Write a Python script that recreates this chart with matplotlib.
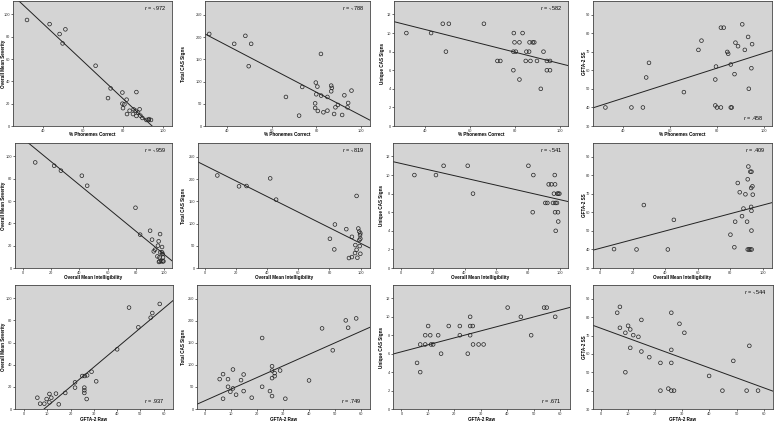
import numpy as np
import matplotlib
matplotlib.use("Agg")
import matplotlib.pyplot as plt

plt.rcParams['font.family'] = ['Liberation Sans', 'DejaVu Sans']
plt.rcParams['mathtext.fontset'] = 'custom'
plt.rcParams['mathtext.it'] = 'Liberation Sans:italic'
plt.rcParams['mathtext.rm'] = 'Liberation Sans'

# ---- data (one x / y list per panel) ----
# row 1: % Phonemes Correct
ppc_sev_x = [32, 43.3, 48.3, 51.2, 49.8, 66.3, 73.8, 72.5, 79.7, 86.7, 81.8, 79.7, 80.7, 80, 83.3,
             85.3, 86.3, 88.3, 82, 85, 86.7, 88.7, 89.7, 91.7, 92.8, 94, 93, 87.5]
ppc_sev_y = [95, 91.3, 82.4, 86.6, 74, 54, 33.7, 25, 30, 30.4, 23.6, 20, 19.4, 16, 13.7,
             14.9, 13.7, 15, 10.7, 10.7, 9, 9.3, 7.2, 5.4, 5.4, 5.4, 6.2, 12]

ppc_tot_x = [31.9, 43.1, 48.1, 50.7, 49.6, 66.3, 73.6, 72.2, 82, 79.7, 80.4, 79.9, 79.4, 79.4, 82.1,
             80.6, 83.1, 84.9, 84.9, 86.6, 86.9, 86.6, 87.9, 88.5, 89.6, 91.5, 92.5, 93.9, 94.2, 95.7]
ppc_tot_y = [207, 184.7, 202.7, 184.7, 134.4, 65.3, 87.8, 23.3, 162, 97.6, 88.6, 71.3, 51, 40.5, 68.3,
             33.8, 30.8, 34.5, 65.3, 90.8, 85.6, 78, 27, 42, 47.3, 24.8, 69, 42, 51.8, 79.6]

ppc_uni_x = [31.8, 42.8, 48, 50.7, 49.4, 66.3, 72.3, 73.6, 79.6, 83.5, 79.9, 82.1, 79.4, 80.5, 79.4,
             82.1, 84.9, 85.2, 86.4, 86.6, 88, 88.7, 87, 89.9, 92.8, 91.6, 94.3, 95.7, 94.3, 95.7]
ppc_uni_y = [10, 10, 11, 11, 8, 11, 7, 7, 10, 10, 9, 9, 8, 8, 6,
             5, 7, 8, 8, 9, 9, 9, 7, 7, 8, 4, 7, 7, 6, 6]

ppc_ss_x = [32.5, 43.6, 48.5, 49.9, 51.1, 66, 72.2, 73.5, 79.4, 80.1, 79.7, 79.4, 81.8, 81.8, 83.0,
            84.5, 84.9, 86, 86, 86.4, 87.6, 88, 89.1, 90.9, 92, 93.4, 93.7, 94.8, 95.1]
ppc_ss_y = [40, 40, 40, 56.2, 64.1, 48.3, 71.1, 76.1, 41.1, 40, 62.1, 55.1, 40, 83.1, 83.1,
            70, 69, 63.2, 40, 40, 58, 75, 73.1, 84.9, 71.1, 78.1, 50.1, 61.2, 74.2]

# row 2: Overall Mean Intelligibility
omi_sev_x = [8.5, 22, 26.8, 41.7, 45.5, 79.9, 83.2, 90.3, 91.7, 97.4, 96.4, 95.9, 93.8, 92.9, 98.8,
             97.6, 98.8, 95.5, 97, 99.3, 99.5, 97, 98.2, 99.3, 99.8, 96.6]
omi_sev_y = [94.6, 91.6, 87.2, 82.7, 73.7, 54, 29.9, 33.4, 25.4, 30.4, 23.9, 20, 16.4, 14.9, 18.8,
             14, 14, 10.4, 9.6, 12.5, 9.6, 6, 6, 6, 6, 5.4]

omi_tot_x = [8.1, 22, 26.8, 42, 45.8, 80.3, 83.5, 83.1, 90.8, 94.4, 97.4, 96.6, 98.5, 99.1, 99.8,
             99.6, 99.8, 99.2, 97.4, 99.4, 99.8, 96.4, 94.4, 92.5, 97.9]
omi_tot_y = [208, 183.6, 184.3, 201.5, 153.7, 65.7, 97.8, 41.8, 87.3, 70.1, 162, 51.5, 88.8, 82, 78,
             74, 66, 63, 41, 49.3, 32, 33.6, 24.6, 22.4, 23.1]

omi_uni_x = [8.6, 22.1, 26.9, 42, 45.3, 80, 83.1, 82.7, 90.6, 91.9, 92.7, 94.4, 96.7, 96.5, 96,
             98.1, 98.7, 99.4, 95.4, 96.9, 97.9, 96.7, 98.5, 98.7, 97.1]
omi_uni_y = [10, 10, 11, 11, 8, 11, 10, 6, 7, 7, 9, 9, 9, 10, 8,
             8, 8, 8, 7, 7, 7, 6, 6, 5, 4]

omi_ss_x = [8.6, 22.4, 26.9, 41.6, 45.3, 80, 82.4, 82.9, 84.5, 85.7, 87.1, 88, 89.2, 90.2, 90.6,
            91, 92.2, 92.9, 92.7, 93.5, 93.7, 92.7, 92.9, 92.9, 90.6, 91.4, 92.2, 93]
omi_ss_y = [40.2, 40, 64, 40, 56, 48, 41.2, 55, 75.9, 70.9, 58, 62.1, 69.8, 55, 77.9,
            84.8, 82, 82, 73.2, 74.1, 69.6, 63, 60.9, 50.2, 40, 40, 40, 40]

# row 3: GFTA-2 Raw
raw_sev_x = [5.7, 6.9, 8.7, 9.7, 10.9, 10.9, 11.7, 13.7, 14.9, 17.7, 21.9, 21.9, 25, 26.1, 27.1,
             25.9, 25.9, 25.9, 26.9, 29, 31, 40, 45.1, 49.1, 54.4, 55.1, 58.3]
raw_sev_y = [10.2, 4.8, 4.8, 9, 13.6, 6, 10.2, 13.9, 4.2, 14.5, 24.1, 19.3, 29.8, 29.8, 30.4,
             19.3, 16.9, 14.5, 9, 33.7, 25, 53.9, 91.6, 73.8, 82.5, 86.7, 94.9]

raw_tot_x = [5.8, 7.1, 7.1, 9, 9, 9.9, 10.9, 10.9, 12.1, 14, 15, 15, 18.1, 22.1, 22.1,
             25.1, 25.9, 25.9, 25.9, 25.9, 26.9, 26.9, 29, 31, 40.1, 45.1, 49.2, 54.2, 55.1, 58.2]
raw_tot_y = [67.7, 79, 23.3, 67.7, 50.4, 39.1, 46.6, 89.5, 32.3, 65.4, 78.2, 40.6, 25.6, 160.9, 50.4,
             40.6, 97, 87.2, 70, 29.3, 81.2, 74.4, 87.2, 23.3, 64.7, 182.7, 133, 200.8, 184.2, 205.3]

raw_uni_x = [5.9, 7.1, 7.1, 9, 9, 10.1, 10.9, 11.2, 12, 13.9, 15, 17.9, 22.1, 22.1, 25.1,
             26, 26, 27, 26, 27.1, 29.2, 31.1, 40.2, 45.2, 49.1, 54, 55, 58.2]
raw_uni_y = [5, 4, 7, 8, 7, 9, 8, 7, 7, 8, 6, 9, 9, 8, 6,
             10, 9, 9, 8, 7, 7, 7, 11, 10, 8, 11, 11, 10]

raw_ss_x = [6.1, 7.1, 7.1, 9.1, 9.1, 10.1, 10.9, 10.9, 12, 13.9, 15, 15, 17.9, 22, 22,
            24.9, 26, 26, 26, 26, 27, 29, 30.8, 39.9, 44.8, 48.8, 53.7, 54.7, 57.9]
raw_ss_y = [82.4, 85.6, 74.2, 71.5, 50, 75.3, 73.3, 63.3, 70.2, 69.3, 78.5, 61.3, 58.2, 55.1, 40,
            41.1, 82.4, 62.2, 55.1, 40, 40, 76.4, 71.5, 48, 40, 56.2, 40, 64.4, 40]

x_titles = ["% Phonemes Correct", "Overall Mean Intelligibility", "GFTA-2 Raw"]
y_titles = ["Overall Mean Severity", "Total CAS Signs", "Unique CAS Signs", "GFTA-2 SS"]
r_labels = [["-.972", "-.788", "-.582", ".458"],
            ["-.959", "-.819", "-.541", ".409"],
            [".937", ".749", ".671", "-.544"]]
r_bottom = [[False, False, False, True],
            [False, False, False, False],
            [True, True, True, False]]

panels = [[(ppc_sev_x, ppc_sev_y), (ppc_tot_x, ppc_tot_y), (ppc_uni_x, ppc_uni_y), (ppc_ss_x, ppc_ss_y)],
          [(omi_sev_x, omi_sev_y), (omi_tot_x, omi_tot_y), (omi_uni_x, omi_uni_y), (omi_ss_x, omi_ss_y)],
          [(raw_sev_x, raw_sev_y), (raw_tot_x, raw_tot_y), (raw_uni_x, raw_uni_y), (raw_ss_x, raw_ss_y)]]

# axis ranges / ticks per panel
xlims = [[(25, 104.5), (30, 104), (26.3, 103.7), (27.2, 103.6)],
         [(-5.9, 105.9), (-4.3, 106), (-4.8, 104.8), (-4.3, 105.5)],
         [(-3.9, 64), (-2.9, 63.5), (-3.2, 63.8), (-2.8, 63.4)]]
x_ticks = [np.arange(40, 101, 20), np.arange(0, 101, 20), np.arange(0, 61, 10)]
ylims = [(0, 112), (0, 281), (0, 13.45), (30, 97.5)]
y_ticks = [np.arange(0, 101, 20), np.arange(0, 251, 50), np.arange(0, 13, 2), np.arange(30, 91, 10)]

# panel boxes in pixels
W, H = 774, 423
cols_px = [[(13, 172), (205, 370), (394, 568), (593, 772)],
           [(15, 172), (198, 370), (393, 568), (593, 772)],
           [(15, 173), (197, 370), (393, 570), (593, 773)]]
rows_px = [(1, 126), (143, 268), (285, 409)]
ylab_px = [3.5, 183, 382, 584]
xlab_px = [135, 277, 419]

bg = '#d4d4d4'
fig = plt.figure(figsize=(W / 100, H / 100), dpi=100)

for i in range(3):
    top, bot = rows_px[i]
    h_px = bot - top
    for j in range(4):
        l, r = cols_px[i][j]
        w_px = r - l
        ax = fig.add_axes([l / W, 1 - bot / H, w_px / W, h_px / H])
        ax.set_facecolor(bg)
        x = np.array(panels[i][j][0])
        y = np.array(panels[i][j][1])
        ax.scatter(x, y, s=7, facecolors='none', edgecolors='#222222', linewidths=0.5, zorder=3)
        k, b = np.polyfit(x, y, 1)
        xx = np.array(xlims[i][j])
        ax.plot(xx, k * xx + b, color='#222222', lw=0.7, zorder=2)
        ax.set_xlim(xlims[i][j])
        ax.set_ylim(ylims[j])
        ax.set_xticks(x_ticks[i])
        ax.set_yticks(y_ticks[j])
        ax.tick_params(labelsize=2.8, length=1.5, width=0.5, pad=0.6, colors='#333333')
        for s in ax.spines.values():
            s.set_linewidth(0.6)
            s.set_color('#444444')
        ax.set_xlabel(x_titles[i], fontsize=3.3, fontweight='bold', va='center')
        ax.set_ylabel(y_titles[j], fontsize=3.3, fontweight='bold', va='center')
        ax.xaxis.set_label_coords(0.5, -(xlab_px[i] - bot) / h_px)
        ax.yaxis.set_label_coords((ylab_px[j] - l) / w_px, 0.5)
        if r_bottom[i][j]:
            ax.text(1 - 8 / w_px, 8 / h_px, "$r$ = " + r_labels[i][j], transform=ax.transAxes,
                    ha='right', va='center', fontsize=4)
        else:
            ax.text(1 - 6 / w_px, 1 - 7 / h_px, "$r$ = " + r_labels[i][j], transform=ax.transAxes,
                    ha='right', va='center', fontsize=4)

fig.savefig("out.png", dpi=100)
